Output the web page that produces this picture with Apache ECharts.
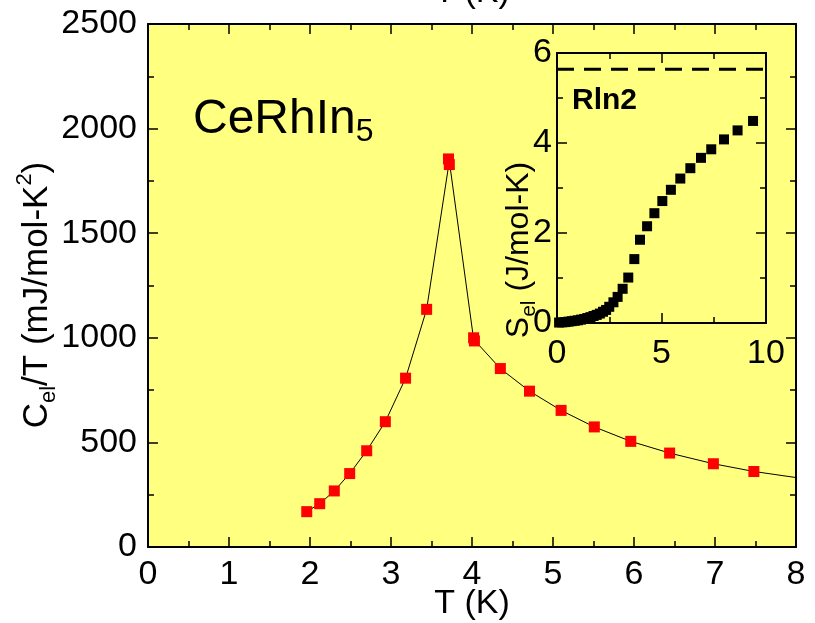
<!DOCTYPE html>
<html><head><meta charset="utf-8">
<script src="https://cdn.jsdelivr.net/npm/echarts@6/dist/echarts.min.js"></script>
<style>html,body{margin:0;padding:0;background:#fff}#c{width:815px;height:623px}</style>
</head><body><div id="c"></div>
<script>
// Main panel: C_el/T vs T
const mainT = [1.96, 2.12, 2.30, 2.49, 2.70, 2.93, 3.18, 3.44, 3.71, 3.72, 4.02, 4.03, 4.35, 4.71, 5.10, 5.51, 5.96, 6.44, 6.98, 7.48];
const mainV = [169, 207, 268, 351, 460, 599, 807, 1136, 1855, 1828, 1000, 985, 853, 745, 653, 574, 505, 449, 398, 361];
// guide line through the points, continuing to the right edge
const fitT = [1.96, 2.12, 2.30, 2.49, 2.70, 2.93, 3.18, 3.44, 3.72, 4.02, 4.35, 4.71, 5.10, 5.51, 5.96, 6.44, 6.98, 7.48, 8.0];
const fitV = [169, 207, 268, 351, 460, 599, 807, 1136, 1845, 993, 853, 745, 653, 574, 505, 449, 398, 361, 332];
// Inset: S_el vs T
const insetT = [0.10, 0.25, 0.40, 0.55, 0.70, 0.85, 1.00, 1.15, 1.30, 1.45, 1.60, 1.75, 1.90, 2.05, 2.20, 2.35, 2.50, 2.70, 2.90, 3.14, 3.41, 3.70, 3.97, 4.31, 4.66, 5.04, 5.45, 5.90, 6.38, 6.89, 7.38, 7.99, 8.64, 9.38];
const insetS = [0.01, 0.015, 0.02, 0.03, 0.04, 0.05, 0.06, 0.075, 0.09, 0.11, 0.13, 0.155, 0.18, 0.21, 0.25, 0.29, 0.36, 0.46, 0.58, 0.76, 1.01, 1.42, 1.85, 2.15, 2.44, 2.71, 2.96, 3.21, 3.44, 3.67, 3.86, 4.08, 4.28, 4.49];
const rln2 = 5.64;
const rln2Range = [0, 10];

const FF = "'Liberation Sans', Arial, sans-serif";
const BG = '#FFFF80';
const FS = 34;
const plain = v => String(v);

function axisCommon(extra) {
  return Object.assign({
    type: 'value',
    nameMoveOverlap: false,
    axisLine: {show: true, onZero: false, lineStyle: {color: '#000', width: 2}},
    axisTick: {show: true, inside: true, length: 10, lineStyle: {color: '#000', width: 1.5}},
    minorTick: {show: true, splitNumber: 2, length: 6, lineStyle: {color: '#000', width: 1.5}},
    splitLine: {show: false},
    minorSplitLine: {show: false},
    axisLabel: {show: false},
    nameTextStyle: {color: '#000', fontSize: FS, fontFamily: FF}
  }, extra);
}
function lab(margin) {
  return {show: true, color: '#000', fontSize: FS, fontFamily: FF, margin: margin, formatter: plain};
}

const chart = echarts.init(document.getElementById('c'), null, {renderer: 'canvas'});
chart.setOption({
  animation: false,
  backgroundColor: '#fff',
  grid: [
    {left: 148, top: 24, right: 19, bottom: 76, show: true, backgroundColor: BG, borderWidth: 0,
      containLabel: false, outerBoundsMode: 'none'},
    {left: 557, top: 53, right: 49, bottom: 300, show: true, backgroundColor: BG, borderWidth: 0, z: 5,
      containLabel: false, outerBoundsMode: 'none'}
  ],
  xAxis: [
    axisCommon({gridIndex: 0, position: 'bottom', min: 0, max: 8, interval: 1,
      axisLabel: lab(11), name: 'T (K)', nameLocation: 'middle', nameGap: 40}),
    axisCommon({gridIndex: 0, position: 'top', min: 0, max: 8, interval: 1,
      name: 'T (K)', nameLocation: 'middle', nameGap: 14}),
    axisCommon({gridIndex: 1, position: 'bottom', min: 0, max: 10, interval: 5, z: 6,
      axisLabel: lab(14)}),
    axisCommon({gridIndex: 1, position: 'top', min: 0, max: 10, interval: 5, z: 6})
  ],
  yAxis: [
    axisCommon({gridIndex: 0, position: 'left', min: 0, max: 2500, interval: 500,
      axisLabel: lab(11)}),
    axisCommon({gridIndex: 0, position: 'right', min: 0, max: 2500, interval: 500}),
    axisCommon({gridIndex: 1, position: 'left', min: 0, max: 6, interval: 2, z: 6,
      axisLabel: lab(5)}),
    axisCommon({gridIndex: 1, position: 'right', min: 0, max: 6, interval: 2, z: 6})
  ],
  series: [
    {type: 'line', xAxisIndex: 0, yAxisIndex: 0, showSymbol: false, symbol: 'none',
      lineStyle: {color: '#000', width: 1}, data: fitT.map((t, i) => [t, fitV[i]]), z: 2},
    {type: 'scatter', xAxisIndex: 0, yAxisIndex: 0, symbol: 'rect', symbolSize: 11,
      itemStyle: {color: '#FF0000', opacity: 1}, data: mainT.map((t, i) => [t, mainV[i]]), z: 3},
    {type: 'line', xAxisIndex: 2, yAxisIndex: 2, symbol: 'none', z: 7,
      lineStyle: {color: '#000', width: 3, type: [17, 10]},
      data: rln2Range.map(t => [t, rln2])},
    {type: 'scatter', xAxisIndex: 2, yAxisIndex: 2, symbol: 'rect', symbolSize: 10, z: 7,
      itemStyle: {color: '#000', opacity: 1}, data: insetT.map((t, i) => [t, insetS[i]])}
  ],
  graphic: [
    {type: 'text', x: 37, y: 295, rotation: Math.PI / 2, z: 10,
      style: {text: '{a|C}{s|el}{a|/T (mJ/mol-K}{p|2}{a|)}', align: 'center', verticalAlign: 'middle',
        rich: {
          a: {fontSize: 35, fontFamily: FF, fill: '#000', lineHeight: 46},
          s: {fontSize: 22, fontFamily: FF, fill: '#000', verticalAlign: 'bottom', lineHeight: 20},
          p: {fontSize: 22, fontFamily: FF, fill: '#000', verticalAlign: 'top', lineHeight: 20}
        }}},
    {type: 'text', x: 519, y: 250, rotation: Math.PI / 2, z: 10,
      style: {text: '{a|S}{s|el}{a| (J/mol-K)}', align: 'center', verticalAlign: 'middle',
        rich: {
          a: {fontSize: 32, fontFamily: FF, fill: '#000', lineHeight: 42},
          s: {fontSize: 21, fontFamily: FF, fill: '#000', verticalAlign: 'bottom', lineHeight: 19}
        }}},
    {type: 'text', left: 193, top: 96, z: 10,
      style: {text: '{a|CeRhIn}{s|5}', rich: {
        a: {fontSize: 48, fontFamily: FF, fill: '#000', lineHeight: 56},
        s: {fontSize: 32, fontFamily: FF, fill: '#000', verticalAlign: 'bottom', lineHeight: 30}
      }}},
    {type: 'text', left: 572, top: 86, z: 10,
      style: {text: 'Rln2', fontSize: 30, fontWeight: 'bold', fontFamily: FF, fill: '#000'}}
  ]
});
</script>
</body></html>
